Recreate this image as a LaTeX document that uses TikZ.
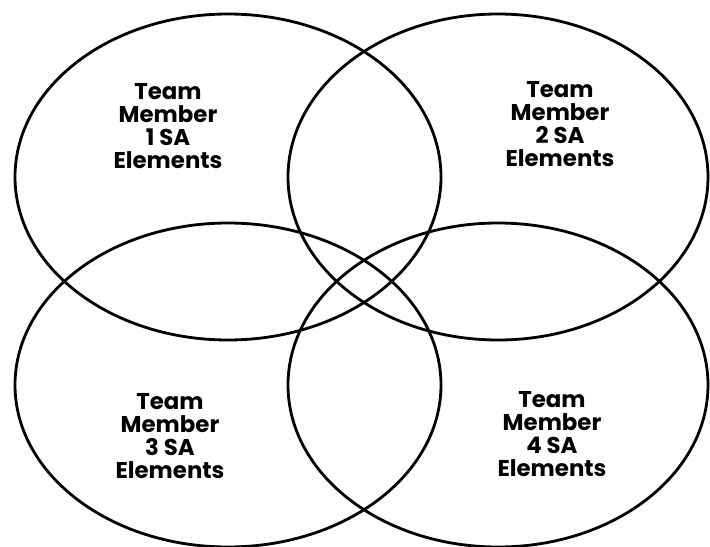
\documentclass[tikz,border=0pt]{standalone}
\usepackage{fontspec}
\setsansfont{Poppins}
\usetikzlibrary{shapes.geometric}

\begin{document}
\begin{tikzpicture}[
  member/.style={ellipse,draw=black,line width=1.6pt,inner sep=0pt},
  label/.style={align=center,font=\sffamily\bfseries\fontsize{13}{13.2}\selectfont}]
\useasboundingbox (0,0) rectangle (14.2,-10.94);

\node[member,minimum width=8.52cm,minimum height=6.52cm] (m1) at (4.56,-3.54) {};
\node[member,minimum width=8.40cm,minimum height=6.52cm] (m2) at (9.96,-3.54) {};
\node[member,minimum width=8.52cm,minimum height=6.48cm] (m3) at (4.56,-7.70) {};
\node[member,minimum width=8.40cm,minimum height=6.48cm] (m4) at (9.96,-7.70) {};

\node[label] (t1) at (3.36,-2.52) {Team\\Member\\1 SA\\Elements};
\node[label] (t2) at (11.20,-2.48) {Team\\Member\\2 SA\\Elements};
\node[label] (t3) at (3.40,-8.72) {Team\\Member\\3 SA\\Elements};
\node[label] (t4) at (11.04,-8.68) {Team\\Member\\4 SA\\Elements};
\end{tikzpicture}
\end{document}
